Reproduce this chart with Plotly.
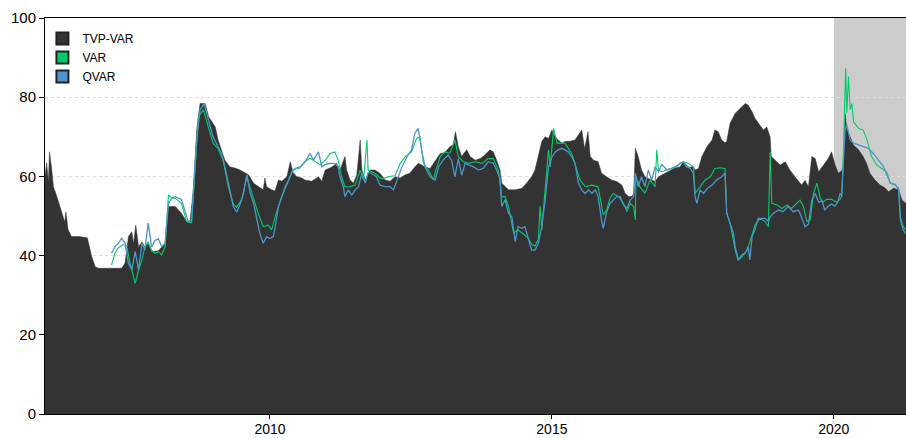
import plotly.graph_objects as go

# ---------------- data (decimal years, connectedness index) ----------------
tvp_t = [2006.01, 2006.04, 2006.07, 2006.09, 2006.13, 2006.16, 2006.22, 2006.28, 2006.33, 2006.36,
         2006.38, 2006.42, 2006.48, 2006.61, 2006.76, 2006.78, 2006.84, 2006.90, 2006.96, 2007.37,
         2007.43, 2007.49, 2007.55, 2007.58, 2007.62, 2007.67, 2007.73, 2007.78, 2007.84, 2007.90,
         2008.02, 2008.14, 2008.17, 2008.20, 2008.32, 2008.43, 2008.52, 2008.58, 2008.64, 2008.70,
         2008.76, 2008.85, 2008.91, 2008.97, 2009.03, 2009.08, 2009.14, 2009.20, 2009.29, 2009.38,
         2009.47, 2009.56, 2009.62, 2009.71, 2009.79, 2009.88, 2009.91, 2009.94, 2010.03, 2010.09,
         2010.15, 2010.21, 2010.30, 2010.36, 2010.41, 2010.47, 2010.56, 2010.62, 2010.74, 2010.86,
         2010.92, 2010.98, 2011.10, 2011.18, 2011.24, 2011.33, 2011.36, 2011.42, 2011.48, 2011.54,
         2011.60, 2011.63, 2011.69, 2011.77, 2011.86, 2011.95, 2012.04, 2012.13, 2012.22, 2012.31,
         2012.40, 2012.48, 2012.57, 2012.63, 2012.69, 2012.75, 2012.84, 2012.93, 2013.02, 2013.10,
         2013.19, 2013.25, 2013.29, 2013.34, 2013.40, 2013.46, 2013.49, 2013.55, 2013.64, 2013.73,
         2013.81, 2013.90, 2013.96, 2014.02, 2014.08, 2014.11, 2014.17, 2014.23, 2014.35, 2014.47,
         2014.55, 2014.64, 2014.70, 2014.76, 2014.82, 2014.88, 2014.94, 2015.00, 2015.06, 2015.11,
         2015.18, 2015.23, 2015.32, 2015.41, 2015.50, 2015.53, 2015.58, 2015.64, 2015.68, 2015.74,
         2015.82, 2015.88, 2015.97, 2016.06, 2016.15, 2016.24, 2016.30, 2016.36, 2016.42, 2016.45,
         2016.48, 2016.53, 2016.59, 2016.65, 2016.71, 2016.77, 2016.83, 2016.89, 2016.95, 2017.01,
         2017.10, 2017.18, 2017.27, 2017.33, 2017.42, 2017.51, 2017.54, 2017.60, 2017.66, 2017.75,
         2017.84, 2017.89, 2017.95, 2018.01, 2018.07, 2018.10, 2018.16, 2018.25, 2018.34, 2018.43,
         2018.48, 2018.55, 2018.60, 2018.66, 2018.75, 2018.81, 2018.87, 2018.89, 2018.96, 2019.05,
         2019.14, 2019.22, 2019.31, 2019.37, 2019.43, 2019.49, 2019.55, 2019.61, 2019.67, 2019.73,
         2019.79, 2019.84, 2019.90, 2019.96, 2020.02, 2020.08, 2020.14, 2020.17, 2020.20, 2020.23,
         2020.29, 2020.35, 2020.44, 2020.52, 2020.58, 2020.64, 2020.73, 2020.82, 2020.91, 2020.97,
         2021.06, 2021.15, 2021.21, 2021.28]
tvp_v = [60.0, 63.4, 58.5, 66.2, 61.6, 57.4, 54.9, 52.4, 49.8, 48.5,
         51.0, 46.5, 44.8, 44.8, 44.5, 43.1, 39.7, 37.2, 36.8, 36.8,
         38.1, 44.8, 46.0, 43.0, 47.7, 42.2, 43.5, 42.2, 43.1, 41.0,
         41.2, 43.1, 47.0, 52.4, 52.4, 50.7, 48.6, 48.3, 56.6, 71.7,
         78.4, 78.4, 75.1, 73.8, 72.5, 69.2, 66.7, 64.1, 62.4, 62.1,
         61.6, 60.8, 60.4, 58.3, 57.4, 56.6, 59.6, 57.4, 56.6, 56.3,
         59.1, 58.8, 59.9, 63.7, 61.0, 60.0, 59.6, 59.1, 58.8, 59.9,
         58.8, 61.6, 62.4, 63.3, 61.6, 65.0, 61.6, 59.1, 58.3, 60.4,
         69.2, 61.6, 59.1, 61.6, 61.6, 60.8, 59.1, 58.8, 59.9, 59.6,
         60.4, 60.8, 62.4, 63.3, 62.9, 62.4, 62.0, 64.0, 65.8, 66.0,
         67.5, 68.0, 71.3, 67.5, 65.0, 66.2, 66.7, 65.0, 64.1, 64.5,
         65.4, 66.7, 66.2, 64.1, 61.6, 58.3, 57.4, 56.6, 56.6, 57.0,
         58.3, 59.9, 61.6, 65.0, 68.8, 70.0, 69.6, 71.7, 70.0, 69.2,
         68.4, 68.8, 68.9, 69.2, 70.9, 71.7, 67.0, 71.3, 65.0, 64.1,
         63.7, 60.8, 59.9, 59.1, 58.7, 57.8, 55.7, 54.9, 54.9, 55.7,
         67.1, 65.0, 61.6, 59.9, 59.5, 59.1, 58.7, 59.9, 60.4, 60.8,
         61.6, 62.1, 62.4, 63.7, 62.4, 62.4, 61.6, 62.0, 65.0, 67.5,
         69.2, 71.7, 71.3, 69.2, 68.5, 68.8, 73.4, 75.9, 77.2, 78.4,
         78.0, 76.3, 74.7, 73.4, 71.7, 72.5, 70.0, 65.0, 64.1, 62.9,
         63.7, 61.6, 59.9, 58.7, 57.8, 59.0, 57.4, 65.0, 64.5, 61.2,
         62.5, 63.3, 64.5, 66.2, 63.0, 60.8, 61.5, 63.0, 75.9, 72.0,
         70.0, 67.9, 66.7, 65.0, 63.3, 60.8, 59.1, 57.8, 57.1, 56.1,
         57.0, 56.6, 54.0, 53.2]

var_t = [2007.19, 2007.25, 2007.31, 2007.40, 2007.46, 2007.52, 2007.58, 2007.61, 2007.67, 2007.73,
         2007.78, 2007.84, 2007.90, 2007.96, 2008.02, 2008.08, 2008.14, 2008.20, 2008.26, 2008.32,
         2008.43, 2008.52, 2008.61, 2008.67, 2008.73, 2008.82, 2008.91, 2008.99, 2009.08, 2009.17,
         2009.26, 2009.35, 2009.41, 2009.50, 2009.59, 2009.71, 2009.79, 2009.88, 2009.97, 2010.03,
         2010.09, 2010.21, 2010.33, 2010.41, 2010.53, 2010.62, 2010.71, 2010.80, 2010.89, 2010.98,
         2011.07, 2011.15, 2011.21, 2011.27, 2011.33, 2011.42, 2011.51, 2011.60, 2011.66, 2011.72,
         2011.74, 2011.86, 2011.98, 2012.10, 2012.22, 2012.31, 2012.40, 2012.51, 2012.60, 2012.66,
         2012.72, 2012.81, 2012.90, 2012.93, 2013.02, 2013.10, 2013.19, 2013.28, 2013.34, 2013.43,
         2013.52, 2013.64, 2013.76, 2013.87, 2013.96, 2014.05, 2014.11, 2014.17, 2014.23, 2014.32,
         2014.40, 2014.47, 2014.58, 2014.64, 2014.70, 2014.76, 2014.79, 2014.82, 2014.88, 2014.94,
         2014.97, 2015.03, 2015.09, 2015.14, 2015.23, 2015.35, 2015.44, 2015.50, 2015.59, 2015.71,
         2015.82, 2015.88, 2015.91, 2015.97, 2016.03, 2016.09, 2016.18, 2016.27, 2016.33, 2016.39,
         2016.45, 2016.48, 2016.49, 2016.56, 2016.65, 2016.74, 2016.80, 2016.83, 2016.86, 2016.89,
         2016.95, 2017.04, 2017.13, 2017.24, 2017.33, 2017.42, 2017.51, 2017.54, 2017.63, 2017.72,
         2017.81, 2017.89, 2017.98, 2018.07, 2018.10, 2018.16, 2018.25, 2018.30, 2018.37, 2018.46,
         2018.55, 2018.60, 2018.69, 2018.78, 2018.84, 2018.87, 2018.90, 2018.99, 2019.08, 2019.17,
         2019.25, 2019.34, 2019.40, 2019.46, 2019.52, 2019.58, 2019.64, 2019.70, 2019.76, 2019.81,
         2019.87, 2019.96, 2020.05, 2020.11, 2020.14, 2020.17, 2020.21, 2020.23, 2020.26, 2020.29,
         2020.32, 2020.35, 2020.44, 2020.52, 2020.58, 2020.67, 2020.76, 2020.85, 2020.94, 2021.00,
         2021.09, 2021.15, 2021.18, 2021.23, 2021.28]
var_v = [37.6, 40.6, 42.0, 42.8, 42.4, 38.0, 34.7, 33.0, 36.4, 38.9,
         42.2, 43.5, 41.4, 40.6, 41.0, 40.2, 42.2, 55.3, 54.5, 54.5,
         53.2, 48.6, 48.3, 61.6, 75.1, 76.8, 72.5, 68.4, 67.0, 64.1,
         57.4, 53.0, 52.2, 54.2, 59.9, 54.2, 50.7, 47.3, 47.7, 46.5,
         49.8, 54.9, 59.1, 61.6, 62.1, 63.7, 64.6, 63.7, 62.9, 64.1,
         65.8, 66.2, 64.1, 59.9, 57.4, 57.4, 57.8, 61.6, 59.1, 69.2,
         61.6, 60.8, 59.4, 59.9, 60.2, 63.3, 65.0, 66.2, 69.6, 70.0,
         63.3, 61.6, 59.1, 61.0, 65.0, 66.2, 65.8, 69.2, 65.0, 63.7,
         63.3, 63.7, 63.3, 64.5, 64.5, 61.6, 54.9, 54.9, 52.4, 45.7,
         46.5, 45.7, 44.4, 42.8, 42.4, 44.1, 52.5, 46.5, 57.4, 66.7,
         62.4, 72.1, 68.4, 68.4, 68.4, 65.8, 62.0, 59.1, 57.4, 57.8,
         57.4, 53.2, 50.3, 51.5, 54.5, 55.7, 54.9, 53.2, 51.1, 53.2,
         52.4, 49.0, 60.0, 57.4, 55.7, 59.1, 57.8, 57.4, 66.7, 61.6,
         61.2, 61.6, 62.1, 62.9, 63.7, 63.3, 62.4, 55.7, 57.4, 59.1,
         59.9, 62.0, 62.2, 62.0, 50.7, 48.2, 41.4, 38.9, 39.7, 41.4,
         45.2, 47.7, 49.4, 48.6, 47.3, 66.2, 53.2, 52.8, 51.9, 52.8,
         51.9, 53.2, 54.0, 52.4, 48.6, 49.0, 55.7, 58.3, 54.5, 53.5,
         54.2, 54.2, 53.5, 54.2, 55.0, 66.0, 87.3, 76.0, 85.2, 76.8,
         78.4, 73.8, 72.1, 71.7, 69.6, 65.0, 62.9, 62.0, 61.0, 58.3,
         58.0, 56.5, 49.8, 47.3, 46.5]

qvar_t = [2007.19, 2007.25, 2007.31, 2007.37, 2007.43, 2007.49, 2007.55, 2007.61, 2007.67, 2007.73,
          2007.78, 2007.84, 2007.90, 2007.96, 2008.02, 2008.08, 2008.14, 2008.20, 2008.26, 2008.32,
          2008.43, 2008.49, 2008.55, 2008.61, 2008.64, 2008.70, 2008.76, 2008.83, 2008.91, 2008.99,
          2009.08, 2009.14, 2009.20, 2009.26, 2009.35, 2009.41, 2009.47, 2009.53, 2009.59, 2009.65,
          2009.71, 2009.77, 2009.82, 2009.88, 2009.94, 2010.00, 2010.06, 2010.09, 2010.15, 2010.21,
          2010.27, 2010.33, 2010.39, 2010.44, 2010.53, 2010.62, 2010.71, 2010.77, 2010.86, 2010.92,
          2010.98, 2011.07, 2011.15, 2011.21, 2011.24, 2011.30, 2011.33, 2011.39, 2011.45, 2011.51,
          2011.57, 2011.63, 2011.69, 2011.74, 2011.80, 2011.89, 2011.95, 2012.04, 2012.13, 2012.19,
          2012.25, 2012.34, 2012.43, 2012.51, 2012.57, 2012.63, 2012.69, 2012.75, 2012.84, 2012.93,
          2012.99, 2013.07, 2013.16, 2013.22, 2013.28, 2013.34, 2013.40, 2013.46, 2013.52, 2013.61,
          2013.70, 2013.78, 2013.87, 2013.96, 2014.02, 2014.08, 2014.11, 2014.17, 2014.23, 2014.29,
          2014.35, 2014.40, 2014.47, 2014.52, 2014.58, 2014.64, 2014.70, 2014.76, 2014.82, 2014.88,
          2014.94, 2015.00, 2015.06, 2015.11, 2015.18, 2015.23, 2015.29, 2015.35, 2015.41, 2015.47,
          2015.53, 2015.59, 2015.65, 2015.71, 2015.77, 2015.82, 2015.85, 2015.88, 2015.91, 2015.97,
          2016.03, 2016.09, 2016.15, 2016.21, 2016.27, 2016.33, 2016.39, 2016.45, 2016.48, 2016.53,
          2016.59, 2016.65, 2016.71, 2016.77, 2016.83, 2016.89, 2016.95, 2017.04, 2017.13, 2017.21,
          2017.27, 2017.33, 2017.39, 2017.45, 2017.51, 2017.54, 2017.57, 2017.63, 2017.69, 2017.75,
          2017.84, 2017.92, 2018.01, 2018.07, 2018.10, 2018.16, 2018.22, 2018.25, 2018.31, 2018.37,
          2018.43, 2018.48, 2018.51, 2018.55, 2018.60, 2018.66, 2018.72, 2018.78, 2018.84, 2018.87,
          2018.93, 2019.02, 2019.10, 2019.19, 2019.28, 2019.37, 2019.40, 2019.49, 2019.55, 2019.61,
          2019.67, 2019.73, 2019.79, 2019.84, 2019.90, 2019.96, 2020.02, 2020.08, 2020.11, 2020.14,
          2020.17, 2020.20, 2020.23, 2020.29, 2020.35, 2020.44, 2020.52, 2020.61, 2020.70, 2020.79,
          2020.88, 2020.94, 2021.00, 2021.09, 2021.15, 2021.18, 2021.23, 2021.28]
qvar_v = [40.6, 42.2, 43.1, 44.4, 43.1, 38.0, 36.4, 41.0, 36.4, 43.1,
          41.4, 48.2, 42.2, 43.8, 44.3, 42.2, 43.1, 53.2, 54.5, 54.9,
          54.2, 51.1, 48.6, 49.0, 54.9, 69.2, 76.8, 78.4, 74.2, 70.0,
          67.5, 65.8, 62.4, 58.3, 52.4, 51.0, 53.0, 55.7, 60.4, 55.7,
          53.2, 49.0, 45.6, 43.1, 44.8, 44.3, 44.8, 47.0, 52.4, 54.9,
          57.4, 59.1, 61.2, 62.0, 62.4, 63.7, 65.8, 64.1, 66.2, 62.4,
          63.0, 63.3, 63.3, 62.4, 59.9, 57.4, 54.9, 56.6, 55.3, 56.6,
          57.4, 60.8, 58.3, 61.0, 60.8, 59.9, 57.8, 57.4, 57.4, 56.6,
          59.1, 62.4, 65.0, 66.7, 70.9, 72.1, 66.7, 62.4, 59.9, 59.1,
          62.4, 64.1, 65.4, 64.1, 59.9, 64.5, 60.3, 63.3, 62.9, 62.4,
          61.6, 62.0, 63.7, 63.3, 61.6, 59.5, 52.4, 54.1, 50.7, 49.8,
          43.5, 47.3, 46.9, 47.3, 44.4, 41.4, 41.4, 43.1, 47.3, 54.0,
          62.4, 64.9, 66.2, 66.7, 67.1, 66.7, 66.2, 65.0, 63.3, 58.3,
          56.6, 55.7, 56.6, 55.7, 56.6, 54.9, 51.5, 49.0, 46.9, 51.0,
          53.2, 54.1, 54.9, 54.9, 52.8, 51.9, 54.1, 54.9, 60.8, 57.4,
          59.9, 57.4, 61.6, 59.1, 62.4, 61.2, 63.0, 61.6, 62.1, 62.4,
          63.3, 63.7, 62.4, 62.1, 60.8, 54.9, 53.2, 56.6, 55.7, 56.9,
          57.8, 59.1, 59.9, 60.8, 50.7, 48.2, 45.6, 42.2, 38.9, 40.2,
          40.6, 42.2, 38.9, 44.8, 46.5, 49.4, 49.4, 49.4, 48.6, 49.8,
          50.7, 51.5, 51.1, 52.4, 51.1, 51.5, 50.7, 47.3, 48.0, 54.0,
          55.7, 53.5, 53.8, 51.5, 52.5, 53.0, 52.5, 53.8, 55.7, 55.0,
          64.0, 71.7, 73.0, 69.2, 68.4, 68.0, 67.5, 67.1, 65.8, 64.1,
          62.5, 60.4, 58.3, 57.8, 57.0, 49.0, 46.5, 45.5]

series_names = ["TVP-VAR", "VAR", "QVAR"]
series_colors = ["#333333", "#00CD66", "#4F94CD"]
x_ticks = [2010, 2015, 2020]
x_tick_labels = ["2010", "2015", "2020"]
y_ticks = [0, 20, 40, 60, 80, 100]
shade_start, shade_end = 2020.0, 2021.28
x_range = [2006.01, 2021.28]

FONT = "Liberation Sans, Arial, sans-serif"

fig = go.Figure()

fig.add_trace(go.Scatter(x=tvp_t, y=tvp_v, mode="lines", fill="tozeroy",
                         fillcolor=series_colors[0],
                         line=dict(color=series_colors[0], width=0.5),
                         showlegend=False, hoverinfo="skip"))
fig.add_trace(go.Scatter(x=var_t, y=var_v, mode="lines",
                         line=dict(color=series_colors[1], width=1.1),
                         showlegend=False))
fig.add_trace(go.Scatter(x=qvar_t, y=qvar_v, mode="lines",
                         line=dict(color=series_colors[2], width=1.3),
                         showlegend=False))

# legend entries as filled squares
for name, col in zip(series_names, series_colors):
    fig.add_trace(go.Scatter(x=[None], y=[None], mode="markers", name=name,
                             marker=dict(symbol="square", size=10, color=col,
                                         line=dict(color="#222222", width=1))))

fig.add_shape(type="rect", xref="x", yref="paper", x0=shade_start, x1=shade_end,
              y0=0, y1=1, fillcolor="#CCCCCC", line_width=0, layer="between")

fig.update_layout(
    width=906, height=438,
    margin=dict(l=45, r=0, t=18, b=24, autoexpand=False),
    plot_bgcolor="white", paper_bgcolor="white",
    font=dict(family=FONT, color="black"),
    legend=dict(x=-0.003, y=0.985, xanchor="left", yanchor="top",
                bgcolor="rgba(0,0,0,0)", font=dict(size=12, family=FONT),
                itemsizing="constant", tracegroupgap=0),
)
fig.update_xaxes(range=x_range, tickvals=x_ticks, ticktext=x_tick_labels,
                 ticks="outside", ticklen=4, tickcolor="black",
                 ticklabelstandoff=-2,
                 showline=True, linecolor="black", linewidth=1, mirror=True,
                 showgrid=False, zeroline=False, automargin=False,
                 tickfont=dict(size=14, family=FONT, color="black"))
fig.update_yaxes(range=[0, 100], tickvals=y_ticks,
                 ticks="outside", ticklen=5, tickcolor="black",
                 showline=True, linecolor="black", linewidth=1,
                 showgrid=True, gridcolor="#DDDDDD", griddash="dot", gridwidth=1,
                 zeroline=False, automargin=False,
                 tickfont=dict(size=15, family=FONT, color="black"))

fig.write_html("out.html",
               config={"displayModeBar": False},
               post_script="document.body.style.margin='0px';"
                           "document.body.style.overflow='hidden';")
